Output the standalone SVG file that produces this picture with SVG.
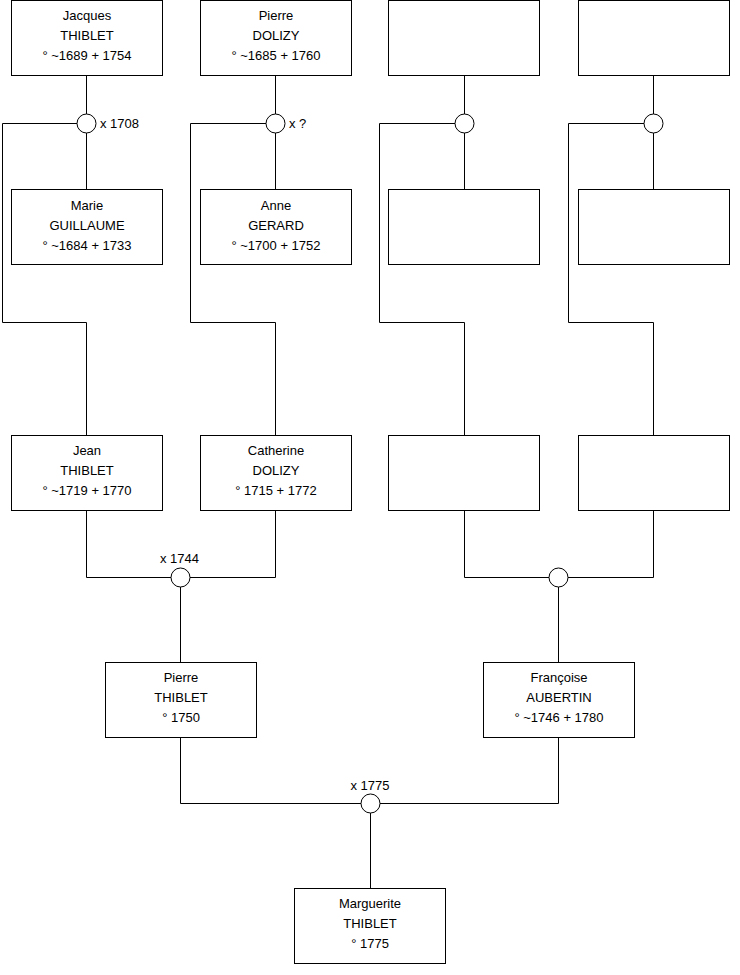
<svg xmlns="http://www.w3.org/2000/svg" width="740" height="975" viewBox="0 0 740 975">
<style>
.box{fill:#fff;stroke:#000;stroke-width:1}
.ln{fill:none;stroke:#000;stroke-width:1}
.ring{fill:#fff;stroke:#000;stroke-width:1}
text{font-family:"Liberation Sans",Arial,sans-serif;font-size:13px;fill:#000}
.c{text-anchor:middle}
</style>
<rect width="740" height="975" fill="#fff"/>
<g id="connectors">
<path class="ln" d="M86.5 76 V114 M86.5 133 V189.5 M77 123.5 H2.5 V322.5 H86.5 V435.5"/>
<path class="ln" d="M275.5 76 V114 M275.5 133 V189.5 M266 123.5 H190.5 V322.5 H275.5 V435.5"/>
<path class="ln" d="M464.5 76 V114 M464.5 133 V189.5 M455 123.5 H379.5 V322.5 H464.5 V435.5"/>
<path class="ln" d="M653.5 76 V114 M653.5 133 V189.5 M644 123.5 H568.5 V322.5 H653.5 V435.5"/>
<path class="ln" d="M86.5 510.5 V577.5 H171 M190 577.5 H275.5 V510.5 M180.5 587 V662.5"/>
<path class="ln" d="M464.5 510.5 V577.5 H549 M568 577.5 H653.5 V510.5 M558.5 587 V662.5"/>
<path class="ln" d="M180.5 737.5 V803.5 H361 M380 803.5 H558.5 V737.5 M370.5 813 V888.5"/>
</g>
<g id="union1"><circle class="ring" cx="86.5" cy="123.5" r="9.5"/><text x="100" y="128">x 1708</text></g>
<g id="union2"><circle class="ring" cx="275.5" cy="123.5" r="9.5"/><text x="289" y="128">x ?</text></g>
<g id="union3"><circle class="ring" cx="464.5" cy="123.5" r="9.5"/></g>
<g id="union4"><circle class="ring" cx="653.5" cy="123.5" r="9.5"/></g>
<g id="union5"><circle class="ring" cx="180.5" cy="577.5" r="9.5"/><text class="c" x="179.5" y="563">x 1744</text></g>
<g id="union6"><circle class="ring" cx="558.5" cy="577.5" r="9.5"/></g>
<g id="union7"><circle class="ring" cx="370.5" cy="803.5" r="9.5"/><text class="c" x="370" y="790">x 1775</text></g>

<g id="jacques"><rect class="box" x="11.5" y="0.5" width="151" height="75"/>
<text class="c" x="87" y="20">Jacques</text><text class="c" x="87" y="40">THIBLET</text><text class="c" x="87" y="60">° ~1689 + 1754</text></g>
<g id="pierre-dolizy"><rect class="box" x="200.5" y="0.5" width="151" height="75"/>
<text class="c" x="276" y="20">Pierre</text><text class="c" x="276" y="40">DOLIZY</text><text class="c" x="276" y="60">° ~1685 + 1760</text></g>
<g id="unknown1"><rect class="box" x="388.5" y="0.5" width="151" height="75"/></g>
<g id="unknown2"><rect class="box" x="578.5" y="0.5" width="151" height="75"/></g>

<g id="marie"><rect class="box" x="11.5" y="189.5" width="151" height="75"/>
<text class="c" x="87" y="210">Marie</text><text class="c" x="87" y="230">GUILLAUME</text><text class="c" x="87" y="250">° ~1684 + 1733</text></g>
<g id="anne"><rect class="box" x="200.5" y="189.5" width="151" height="75"/>
<text class="c" x="276" y="210">Anne</text><text class="c" x="276" y="230">GERARD</text><text class="c" x="276" y="250">° ~1700 + 1752</text></g>
<g id="unknown3"><rect class="box" x="388.5" y="189.5" width="151" height="75"/></g>
<g id="unknown4"><rect class="box" x="578.5" y="189.5" width="151" height="75"/></g>

<g id="jean"><rect class="box" x="11.5" y="435.5" width="151" height="75"/>
<text class="c" x="87" y="455">Jean</text><text class="c" x="87" y="475">THIBLET</text><text class="c" x="87" y="495">° ~1719 + 1770</text></g>
<g id="catherine"><rect class="box" x="200.5" y="435.5" width="151" height="75"/>
<text class="c" x="276" y="455">Catherine</text><text class="c" x="276" y="475">DOLIZY</text><text class="c" x="276" y="495">° 1715 + 1772</text></g>
<g id="unknown5"><rect class="box" x="388.5" y="435.5" width="151" height="75"/></g>
<g id="unknown6"><rect class="box" x="578.5" y="435.5" width="151" height="75"/></g>

<g id="pierre-thiblet"><rect class="box" x="105.5" y="662.5" width="151" height="75"/>
<text class="c" x="181" y="682">Pierre</text><text class="c" x="181" y="702">THIBLET</text><text class="c" x="181" y="722">° 1750</text></g>
<g id="francoise"><rect class="box" x="483.5" y="662.5" width="151" height="75"/>
<text class="c" x="559" y="682">Françoise</text><text class="c" x="559" y="702">AUBERTIN</text><text class="c" x="559" y="722">° ~1746 + 1780</text></g>
<g id="marguerite"><rect class="box" x="294.5" y="888.5" width="151" height="75"/>
<text class="c" x="370" y="908">Marguerite</text><text class="c" x="370" y="928">THIBLET</text><text class="c" x="370" y="948">° 1775</text></g>
</svg>
